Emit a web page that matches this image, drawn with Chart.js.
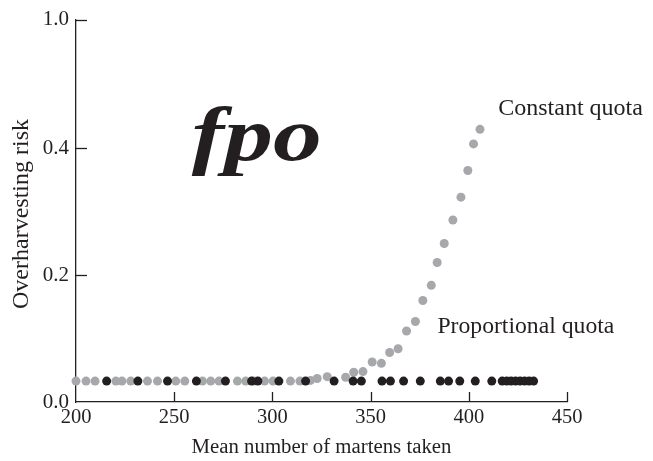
<!DOCTYPE html>
<html>
<head>
<meta charset="utf-8">
<script src="https://cdn.jsdelivr.net/npm/chart.js@4.4.1/dist/chart.umd.min.js"></script>
<style>
  html, body { margin: 0; padding: 0; background: #ffffff; }
  #wrap { width: 653px; height: 461px; }
</style>
</head>
<body>
<div id="wrap"><canvas id="c" width="653" height="461"></canvas></div>
<script>
// Mean number of martens taken (x) and overharvesting risk (y)
const constantX = [200.0, 205.1, 209.7, 220.3, 223.4, 227.9, 236.4, 241.5, 250.8, 255.4,
                   264.4, 268.6, 272.8, 282.2, 286.4, 290.6, 296.0, 300.3, 309.2, 314.0,
                   319.4, 322.8, 327.9, 337.3, 341.4, 346.1, 350.8, 355.5, 359.7, 364.0,
                   368.3, 372.8, 376.6, 380.9, 383.9, 387.5, 391.9, 396.0, 399.5, 402.4, 405.7];
const constantRisk = [0.033, 0.033, 0.033, 0.033, 0.033, 0.033, 0.033, 0.033, 0.033, 0.033,
                      0.033, 0.033, 0.033, 0.033, 0.033, 0.033, 0.033, 0.033, 0.033, 0.033,
                      0.034, 0.037, 0.040, 0.039, 0.047, 0.048, 0.063, 0.061, 0.078, 0.084,
                      0.112, 0.127, 0.160, 0.184, 0.220, 0.250, 0.287, 0.323, 0.365, 0.407, 0.430];

const proportionalX = [215.6, 231.5, 246.6, 261.3, 276.1, 289.4, 292.6, 303.3, 316.9, 331.4,
                       341.1, 345.3, 355.8, 360.1, 366.8, 375.3, 385.5, 389.7, 395.4, 403.3,
                       411.7, 417.0, 419.3, 421.5, 423.8, 426.1, 428.4, 430.7, 433.0];
const proportionalRisk = [0.033, 0.033, 0.033, 0.033, 0.033, 0.033, 0.033, 0.033, 0.033, 0.033,
                          0.033, 0.033, 0.033, 0.033, 0.033, 0.033, 0.033, 0.033, 0.033, 0.033,
                          0.033, 0.033, 0.033, 0.033, 0.033, 0.033, 0.033, 0.033, 0.033];

const xTickValues = [200, 250, 300, 350, 400, 450];
const yTickValues = [0, 0.2, 0.4, 1.0];
const yTickLabels = ['0.0', '0.2', '0.4', '1.0'];

// The y axis is broken above 0.4: the 1.0 tick sits at the top of a shortened axis.
const Y_AXIS_TOP = 0.603;
const yPos = v => (v <= 0.4 ? v : Y_AXIS_TOP);

const INK = '#231f20';
const GREY = '#a7a8ab';
const SERIF = '"Liberation Serif", "DejaVu Serif", serif';

const toPoints = (xs, ys) => xs.map((x, i) => ({ x: x, y: ys[i] }));

const decorations = {
  id: 'decorations',
  afterDraw(chart) {
    const ctx = chart.ctx;
    const xs = chart.scales.x, ys = chart.scales.y;
    const area = chart.chartArea;
    ctx.save();
    ctx.strokeStyle = INK;
    ctx.lineWidth = 1.3;
    // inward tick marks
    xTickValues.slice(1).forEach(v => {
      const px = Math.round(xs.getPixelForValue(v)) + 0.5;
      ctx.beginPath();
      ctx.moveTo(px, area.bottom);
      ctx.lineTo(px, area.bottom - 10);
      ctx.stroke();
    });
    yTickValues.slice(1).forEach(v => {
      const py = Math.round(ys.getPixelForValue(yPos(v))) + 0.5;
      ctx.beginPath();
      ctx.moveTo(area.left, py);
      ctx.lineTo(area.left + 11, py);
      ctx.stroke();
    });

    ctx.fillStyle = INK;
    // axis titles
    ctx.textAlign = 'center';
    ctx.textBaseline = 'middle';
    ctx.font = '20.8px ' + SERIF;
    ctx.fillText('Mean number of martens taken', (area.left + area.right) / 2, 448);
    ctx.save();
    ctx.translate(22, 214);
    ctx.rotate(-Math.PI / 2);
    ctx.font = '24px ' + SERIF;
    ctx.fillText('Overharvesting risk', 0, 0);
    ctx.restore();

    // series labels
    ctx.textAlign = 'left';
    ctx.font = '24px ' + SERIF;
    ctx.fillText('Constant quota', xs.getPixelForValue(415.0), ys.getPixelForValue(0.462));
    ctx.font = '23.7px ' + SERIF;
    ctx.fillText('Proportional quota', xs.getPixelForValue(384.0), ys.getPixelForValue(0.118));

    // placeholder stamp
    ctx.textAlign = 'center';
    ctx.font = 'italic bold 76px ' + SERIF;
    const cx = xs.getPixelForValue(292.0), cy = ys.getPixelForValue(0.412);
    const w = ctx.measureText('fpo').width;
    ctx.translate(cx, cy);
    ctx.scale(130 / w, 1);
    ctx.fillText('fpo', 0, 0);
    ctx.restore();
  }
};

new Chart(document.getElementById('c'), {
  type: 'scatter',
  data: {
    datasets: [
      {
        label: 'Proportional quota',
        data: toPoints(proportionalX, proportionalRisk),
        backgroundColor: INK,
        borderWidth: 0,
        pointRadius: 4.5,
        clip: false
      },
      {
        label: 'Constant quota',
        data: toPoints(constantX, constantRisk),
        backgroundColor: GREY,
        borderWidth: 0,
        pointRadius: 4.5,
        clip: false
      }
    ]
  },
  options: {
    responsive: false,
    animation: false,
    layout: { padding: { top: 16, right: 86, left: 0, bottom: 0 } },
    plugins: { legend: { display: false }, tooltip: { enabled: false } },
    scales: {
      x: {
        type: 'linear',
        min: 200,
        max: 450,
        afterBuildTicks: s => { s.ticks = xTickValues.map(v => ({ value: v })); },
        afterFit: s => { s.height = 59; },
        grid: { display: false, drawTicks: false },
        border: { display: true, color: INK, width: 1.3 },
        ticks: { color: INK, font: { family: SERIF, size: 20.5 }, padding: 3, maxRotation: 0 }
      },
      y: {
        type: 'linear',
        min: 0,
        max: Y_AXIS_TOP,
        afterBuildTicks: s => { s.ticks = yTickValues.map(v => ({ value: yPos(v) })); },
        afterFit: s => { s.width = 76; },
        grid: { display: false, drawTicks: false },
        border: { display: true, color: INK, width: 1.3 },
        ticks: {
          color: INK,
          font: { family: SERIF, size: 21 },
          padding: 7,
          callback: (val, i) => yTickLabels[i]
        }
      }
    }
  },
  plugins: [decorations]
});
</script>
</body>
</html>
